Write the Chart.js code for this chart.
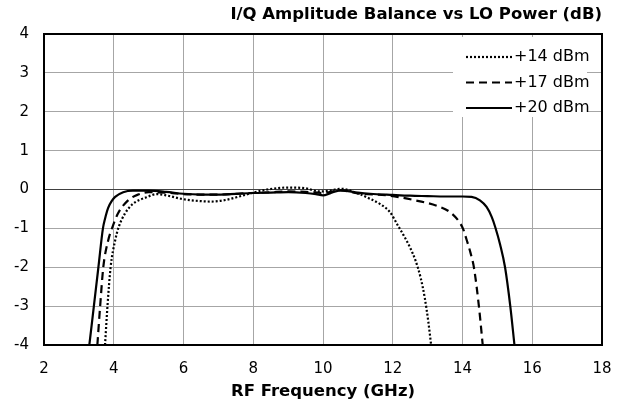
<!DOCTYPE html>
<html>
<head>
<meta charset="utf-8">
<script src="https://cdn.jsdelivr.net/npm/chart.js@4/dist/chart.umd.min.js"></script>
<style>
  html, body { margin: 0; padding: 0; background: #fff; }
  #chart { display: block; }
</style>
</head>
<body>
<canvas id="chart" width="627" height="407"></canvas>
<script>
// RF frequency (GHz) and I/Q amplitude balance (dB)
var freq14 = [3.75, 3.82, 3.91, 4.04, 4.14, 4.32, 4.55, 4.94, 5.23, 5.5, 6.0, 6.5, 6.8, 7.2, 7.6, 8.0, 8.4, 9.0, 9.5, 9.9, 10.2, 10.5, 11.0, 11.35, 11.63, 11.92, 12.15, 12.3, 12.5, 12.65, 12.8, 12.92, 13.02, 13.1];
var bal14 = [-4, -3, -2, -1.31, -0.97, -0.62, -0.37, -0.2, -0.12, -0.15, -0.25, -0.3, -0.31, -0.27, -0.18, -0.08, 0.0, 0.05, 0.03, -0.05, -0.03, 0.02, -0.1, -0.24, -0.37, -0.58, -0.93, -1.16, -1.5, -1.82, -2.27, -2.8, -3.4, -4];

var freq17 = [3.53, 3.61, 3.70, 3.84, 3.95, 4.12, 4.41, 4.7, 5.0, 5.5, 6.0, 6.5, 7.0, 7.5, 8.0, 8.5, 9.0, 9.5, 10.0, 10.5, 11.0, 11.83, 12.6, 13.3, 13.64, 13.88, 14.02, 14.12, 14.23, 14.33, 14.47, 14.58];
var bal17 = [-4, -3, -2, -1.31, -1.0, -0.62, -0.28, -0.13, -0.07, -0.08, -0.12, -0.13, -0.13, -0.11, -0.09, -0.07, -0.05, -0.06, -0.09, -0.02, -0.1, -0.15, -0.27, -0.43, -0.58, -0.8, -1.02, -1.3, -1.63, -2.02, -3.0, -4];

var freq20 = [3.30, 3.43, 3.56, 3.69, 3.75, 3.84, 3.94, 4.04, 4.27, 4.55, 5.0, 5.5, 6.0, 6.5, 7.0, 7.5, 8.0, 8.5, 9.0, 9.5, 9.8, 10.0, 10.2, 10.5, 11.0, 11.35, 12.0, 12.5, 13.0, 13.5, 14.0, 14.26, 14.5, 14.69, 14.84, 14.94, 15.08, 15.22, 15.37, 15.49];
var bal20 = [-4, -3, -2, -1.0, -0.75, -0.47, -0.3, -0.19, -0.07, -0.03, -0.03, -0.06, -0.11, -0.13, -0.13, -0.11, -0.09, -0.08, -0.07, -0.09, -0.12, -0.15, -0.1, -0.02, -0.08, -0.11, -0.14, -0.16, -0.17, -0.18, -0.18, -0.19, -0.28, -0.45, -0.71, -0.97, -1.42, -2.0, -3.0, -4];

var seriesLabels = ['+14 dBm', '+17 dBm', '+20 dBm'];
var xTicks = [2, 4, 6, 8, 10, 12, 14, 16, 18];
var yTicks = [-4, -3, -2, -1, 0, 1, 2, 3, 4];

var FONT = 'DejaVu Sans';

function toPoints(xs, ys) {
  var pts = [];
  for (var i = 0; i < xs.length; i++) pts.push({ x: xs[i], y: ys[i] });
  return pts;
}

function lineSet(label, xs, ys, dash) {
  return {
    label: label,
    data: toPoints(xs, ys),
    borderColor: '#000',
    borderWidth: 2.2,
    borderDash: dash,
    borderCapStyle: 'butt',
    pointRadius: 0,
    fill: false,
    cubicInterpolationMode: 'monotone'
  };
}

// thick frame round the plot area
var frame = {
  id: 'frame',
  afterDatasetsDraw: function(chart) {
    var a = chart.chartArea, c = chart.ctx;
    c.save();
    c.strokeStyle = '#000';
    c.lineWidth = 2;
    c.strokeRect(a.left, a.top, a.right - a.left, a.bottom - a.top);
    c.restore();
  }
};

// legend inside the plot, top right, on a white box
var innerLegend = {
  id: 'innerLegend',
  afterDraw: function(chart) {
    var c = chart.ctx, a = chart.chartArea;
    var sets = chart.data.datasets;
    c.save();
    c.fillStyle = '#fff';
    c.fillRect(a.right - 149, a.top + 3, 134, 80);
    c.font = '16px "' + FONT + '"';
    c.textBaseline = 'middle';
    c.textAlign = 'left';
    for (var i = 0; i < sets.length; i++) {
      var y = a.top + 23 + i * 25.5;
      var x0 = a.right - 136;
      c.strokeStyle = '#000';
      c.lineWidth = 2.2;
      c.setLineDash(sets[i].borderDash || []);
      c.beginPath();
      c.moveTo(x0, y);
      c.lineTo(x0 + 46, y);
      c.stroke();
      c.setLineDash([]);
      c.fillStyle = '#000';
      c.fillText(sets[i].label, x0 + 48, y);
    }
    c.restore();
  }
};

new Chart(document.getElementById('chart').getContext('2d'), {
  type: 'line',
  data: {
    datasets: [
      lineSet(seriesLabels[0], freq14, bal14, [2, 2]),
      lineSet(seriesLabels[1], freq17, bal17, [8, 5]),
      lineSet(seriesLabels[2], freq20, bal20, [])
    ]
  },
  options: {
    responsive: false,
    animation: false,
    layout: { padding: { left: 0, right: 25, top: 0, bottom: 0 } },
    plugins: {
      legend: { display: false },
      tooltip: { enabled: false },
      title: {
        display: true,
        text: 'I/Q Amplitude Balance vs LO Power (dB)',
        align: 'end',
        color: '#000',
        font: { family: FONT, size: 16.5, weight: 'bold' },
        padding: { top: 5, bottom: 9.2 }
      }
    },
    scales: {
      x: {
        type: 'linear',
        min: 2,
        max: 18,
        afterBuildTicks: function(s) { s.ticks = xTicks.map(function(v) { return { value: v }; }); },
        afterFit: function(s) { s.height = 62; },
        ticks: { color: '#000', font: { family: FONT, size: 15 }, padding: 15, maxRotation: 0 },
        grid: { color: '#a6a6a6', lineWidth: 1, drawTicks: false },
        border: { display: false },
        title: {
          display: true,
          text: 'RF Frequency (GHz)',
          color: '#000',
          font: { family: FONT, size: 16.5, weight: 'bold' },
          padding: { top: 4, bottom: 5 }
        }
      },
      y: {
        type: 'linear',
        min: -4,
        max: 4,
        afterBuildTicks: function(s) { s.ticks = yTicks.map(function(v) { return { value: v }; }); },
        afterFit: function(s) { s.width = 44; },
        ticks: { color: '#000', font: { family: FONT, size: 15 }, padding: 15 },
        grid: {
          color: function(ctx) { return ctx.tick && ctx.tick.value === 0 ? '#404040' : '#a6a6a6'; },
          lineWidth: 1,
          drawTicks: false
        },
        border: { display: false }
      }
    }
  },
  plugins: [frame, innerLegend]
});
</script>
</body>
</html>
